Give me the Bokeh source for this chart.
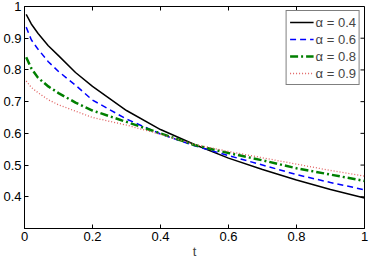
import math
from bokeh.plotting import figure
from bokeh.models import Range1d, FixedTicker, Legend, LegendItem
from bokeh.embed import file_html
from bokeh.resources import INLINE

# ---- data ----
t = [0.005, 0.02, 0.04, 0.07, 0.1, 0.15, 0.2, 0.3, 0.4, 0.5, 0.6, 0.7, 0.8, 0.9, 1.0]
y_a04 = [0.975, 0.945, 0.915, 0.876, 0.845, 0.792, 0.748, 0.672, 0.612, 0.565, 0.522, 0.486, 0.453, 0.423, 0.396]
y_a06 = [0.935, 0.895, 0.865, 0.826, 0.795, 0.752, 0.705, 0.645, 0.598, 0.561, 0.530, 0.500, 0.470, 0.445, 0.422]
y_a08 = [0.840, 0.805, 0.775, 0.748, 0.727, 0.697, 0.672, 0.636, 0.600, 0.563, 0.538, 0.515, 0.490, 0.470, 0.450]
y_a09 = [0.765, 0.745, 0.728, 0.706, 0.690, 0.670, 0.650, 0.626, 0.597, 0.565, 0.543, 0.523, 0.503, 0.483, 0.465]
labels = ["α = 0.4", "α = 0.6", "α = 0.8", "α = 0.9"]
x_ticks = [0, 0.2, 0.4, 0.6, 0.8, 1.0]
x_tick_labels = ["0", "0.2", "0.4", "0.6", "0.8", "1"]
y_ticks = [0.4, 0.5, 0.6, 0.7, 0.8, 0.9, 1.0]
y_tick_labels = ["0.4", "0.5", "0.6", "0.7", "0.8", "0.9", "1"]
x_min, x_max = 0, 1
y_min, y_max = 0.3, 1.0

FONT = "Liberation Sans"

p = figure(frame_width=340, frame_height=222, output_backend="svg", toolbar_location=None,
           x_range=Range1d(x_min, x_max), y_range=Range1d(y_min, y_max),
           min_border_left=4, min_border_right=6, min_border_top=6, min_border_bottom=2)
p.background_fill_color = "white"
p.border_fill_color = "white"
p.outline_line_color = "black"
p.outline_line_width = 1
p.grid.visible = False

def style_axis(ax, ticks, tick_labels):
    ax.ticker = FixedTicker(ticks=ticks)
    ax.major_label_overrides = {k: v for k, v in zip(ticks, tick_labels)}
    ax.major_tick_in = 4
    ax.major_tick_out = 0
    ax.minor_tick_in = 0
    ax.minor_tick_out = 0
    ax.axis_line_color = "black"
    ax.major_tick_line_color = "black"
    ax.major_label_text_font = FONT
    ax.major_label_text_color = "black"
    ax.major_label_text_font_size = "13px"
    ax.major_label_standoff = 3

style_axis(p.xaxis[0], x_ticks, x_tick_labels)
style_axis(p.yaxis[0], y_ticks, y_tick_labels)
p.xaxis[0].axis_label = "t"
p.xaxis[0].axis_label_text_font = FONT
p.xaxis[0].axis_label_text_font_size = "13px"
p.xaxis[0].axis_label_text_font_style = "normal"
p.xaxis[0].axis_label_standoff = 0

# inward ticks on the top and right edges of the box (MATLAB "box on")
p.ray(x=x_ticks, y=[y_max] * len(x_ticks), length=4, length_units="screen",
      angle=-math.pi / 2, line_color="black", line_width=1)
p.ray(x=[x_max] * len(y_ticks), y=y_ticks, length=4, length_units="screen",
      angle=math.pi, line_color="black", line_width=1)

r1 = p.line(t, y_a04, line_color="black", line_width=1.5)
r2 = p.line(t, y_a06, line_color="#0000ff", line_width=1.5, line_dash="6 4")
r3 = p.line(t, y_a08, line_color="#007f00", line_width=2.5, line_dash="8 3 2 3")
r4 = p.line(t, y_a09, line_color="#e06060", line_width=1.3, line_dash="1 2")

legend = Legend(items=[LegendItem(label=l, renderers=[r]) for l, r in zip(labels, [r1, r2, r3, r4])],
                location="top_right")
legend.border_line_color = "black"
legend.border_line_width = 1
legend.background_fill_color = "white"
legend.background_fill_alpha = 1
legend.label_text_font = FONT
legend.label_text_font_size = "13px"
legend.glyph_width = 24
legend.glyph_height = 16
legend.label_height = 16
legend.label_standoff = 2
legend.spacing = 1
legend.padding = 3
legend.margin = 4
p.add_layout(legend)

open("out.html", "w").write(file_html(p, INLINE))
